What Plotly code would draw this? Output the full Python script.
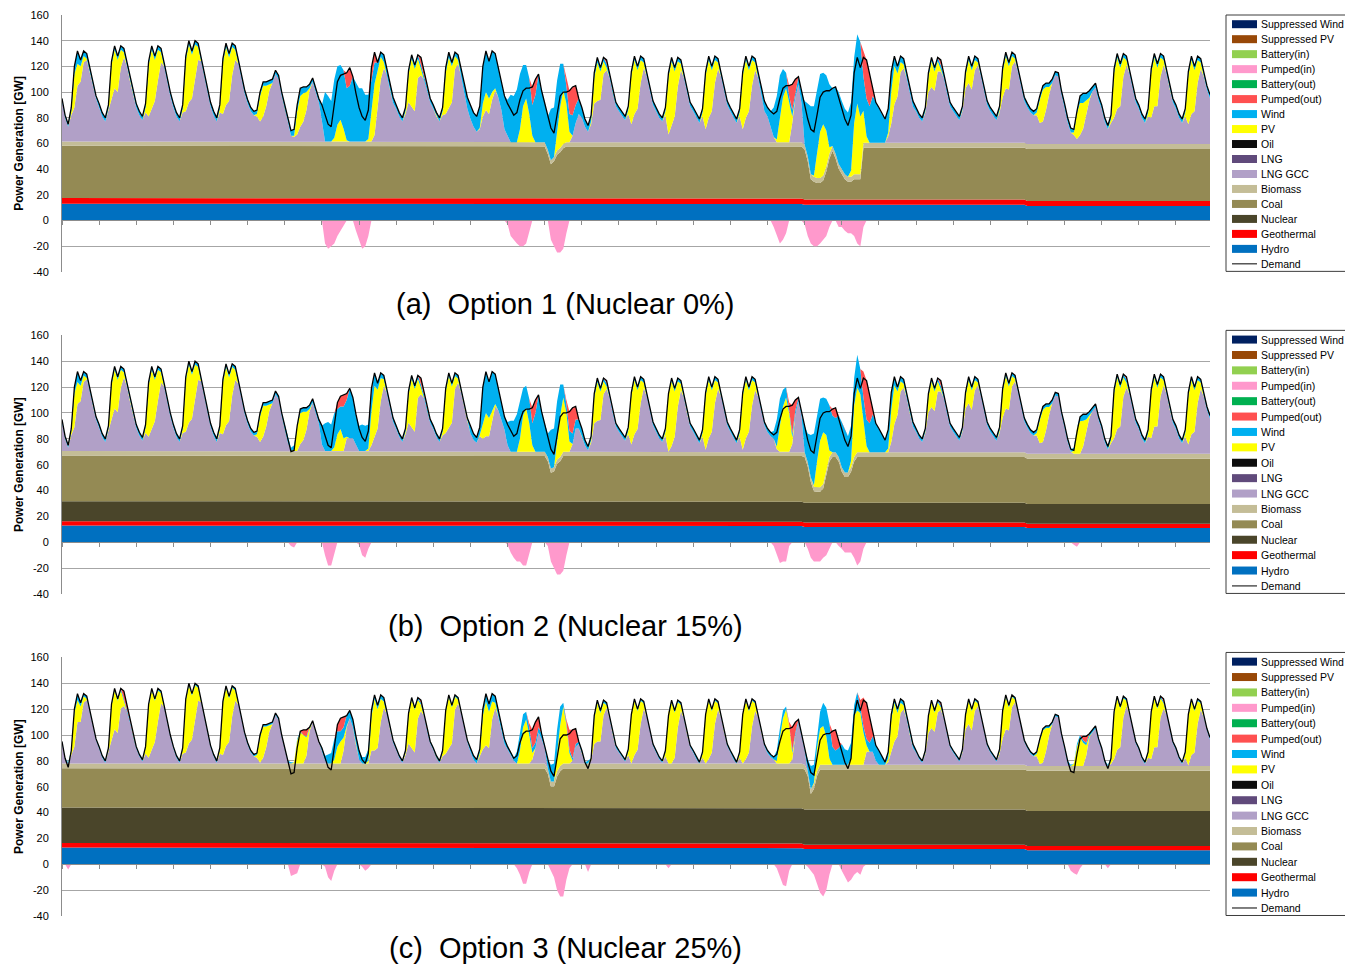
import plotly.graph_objects as go

# ====================== DATA (GW) ======================
N_DAYS = 31
HOURS = [0, 2, 4, 6, 8, 10, 12, 14, 16, 18, 20, 22]      # sample hours of each day
PV_HOURS = [6, 8, 10, 12, 14, 16]                        # PV rows give values at these hours (0 otherwise)

# demand, one row per day (same in all three options)
demand = [
    [95, 82, 75, 88, 120, 132, 125, 132, 130, 119, 107, 97],
    [91, 84, 80, 90, 124, 136, 128, 136, 134, 123, 111, 100],
    [91, 85, 81, 91, 124, 136, 128, 136, 134, 123, 111, 100],
    [91, 84, 80, 90, 128, 140, 132, 140, 138, 127, 115, 104],
    [92, 85, 80, 90, 126, 138, 130, 138, 136, 125, 113, 102],
    [94, 88, 85, 86, 100, 108, 108, 109, 110, 117, 113, 100],
    [91, 80, 70, 71, 90, 103, 104, 104, 106, 111, 103, 95],
    [90, 82, 75, 73, 92, 108, 113, 114, 115, 119, 112, 99],
    [88, 81, 78, 86, 119, 131, 123, 131, 129, 118, 106, 96],
    [90, 84, 80, 88, 117, 129, 121, 129, 127, 116, 104, 95],
    [90, 84, 80, 88, 119, 131, 123, 131, 129, 118, 106, 96],
    [90, 84, 81, 89, 120, 132, 124, 132, 130, 119, 107, 97],
    [91, 86, 82, 84, 94, 101, 103, 103, 104, 110, 114, 101],
    [92, 81, 72, 68, 84, 97, 100, 100, 101, 104, 105, 95],
    [88, 79, 74, 82, 115, 127, 119, 127, 125, 114, 102, 92],
    [88, 84, 81, 89, 116, 128, 120, 128, 126, 115, 103, 93],
    [88, 83, 80, 88, 115, 127, 119, 127, 125, 114, 102, 92],
    [88, 83, 79, 87, 116, 128, 120, 128, 126, 115, 103, 93],
    [88, 83, 79, 87, 116, 128, 120, 128, 126, 115, 103, 93],
    [88, 85, 83, 85, 95, 103, 105, 105, 106, 110, 112, 100],
    [90, 79, 71, 69, 82, 96, 100, 101, 101, 103, 104, 95],
    [88, 79, 74, 82, 115, 127, 119, 127, 125, 114, 102, 92],
    [88, 83, 79, 87, 116, 128, 120, 128, 126, 115, 103, 93],
    [88, 83, 80, 88, 115, 127, 119, 127, 125, 114, 102, 92],
    [88, 84, 81, 89, 116, 128, 120, 128, 126, 115, 103, 93],
    [88, 84, 81, 89, 119, 131, 123, 131, 129, 118, 106, 96],
    [91, 87, 85, 87, 97, 105, 107, 107, 110, 116, 115, 101],
    [91, 80, 72, 71, 85, 97, 99, 99, 101, 104, 107, 97],
    [90, 80, 74, 82, 118, 130, 122, 130, 128, 117, 105, 95],
    [90, 83, 79, 87, 118, 130, 122, 130, 128, 117, 105, 95],
    [90, 83, 79, 87, 116, 128, 120, 128, 126, 115, 105, 98],
]

# ---------------- Option 1 (Nuclear 0%) ----------------
hydro_a = [13.1, 13.1, 13.1, 13.1, 13.1, 13.1, 13.1, 13.1, 13.1, 13.1,
           12.8, 12.8, 12.8, 12.8, 12.8, 12.8, 12.8, 12.8, 12.8, 12.8,
           12.2, 12.2, 12.2, 12.2, 12.2, 12.2, 11.3, 11.3, 11.3, 11.3, 11.3]
geo_a = [4.4, 4.4, 4.4, 4.4, 4.4, 4.4, 4.4, 4.4, 4.4, 4.4,
         4.3, 4.3, 4.3, 4.3, 4.3, 4.3, 4.3, 4.3, 4.3, 4.3,
         4.1, 4.1, 4.1, 4.1, 4.1, 4.1, 3.9, 3.9, 3.9, 3.9, 3.9]
nuclear_a = [0] * N_DAYS
coal_a = [40.7, 40.7, 40.7, 40.7, 40.7, 40.7, 40.7, 40.7, 40.7, 40.7,
          40.6, 40.6, 40.6, 40.6, 40.6, 40.6, 40.6, 40.6, 40.6, 40.6,
          40.4, 40.4, 40.4, 40.4, 40.4, 40.4, 40.5, 40.5, 40.5, 40.5, 40.5]
coal_a_ramp = {
    13: [40.6, 34.6, 26.6, 29.1, 34.1, 36.1, 39.1, 40.6, 40.6, 40.6, 40.6, 40.6],
    20: [38.9, 29.9, 15.9, 13.9, 12.9, 12.9, 14.9, 21.9, 31.9, 37.9, 31.9, 23.9],
    21: [19.9, 15.9, 13.9, 13.9, 15.9, 15.9, 15.9, 40.4, 40.4, 40.4, 40.4, 40.4],
}
biomass_a = [3.3] * 20 + [3.8] * 11
lng_gcc_a = [
    [31.5, 18.5, 11.5, 20.5, 26.5, 43.5, 46.5, 61.5, 63.5, 54.5, 43.5, 33.5],
    [26.5, 19.5, 15.5, 24.5, 31.5, 41.5, 38.5, 57.5, 65.5, 58.5, 46.5, 35.5],
    [26.5, 20.5, 16.5, 22.5, 19.5, 25.5, 31.5, 47.5, 61.5, 58.5, 46.5, 35.5],
    [26.5, 19.5, 15.5, 22.5, 23.5, 30.5, 33.5, 49.5, 63.5, 62.5, 50.5, 39.5],
    [27.5, 20.5, 15.5, 22.5, 21.5, 28.5, 31.5, 51.5, 63.5, 60.5, 48.5, 37.5],
    [29.5, 23.5, 20.5, 19.5, 15.5, 19.5, 27.5, 39.5, 45.5, 52.5, 48.5, 35.5],
    [26.5, 15.5, 4.5, 3.5, 5.5, 11.5, 15.5, 24.5, 39.5, 46.5, 38.5, 30.5],
    [16, 0, 0, 0, 0, 0, 0, 0, 0, 0, 0, 0],
    [0, 0, 0, 0, 0, 5, 25, 48, 57, 52, 40, 30],
    [25.5, 19.5, 15.5, 21.5, 30.5, 26.5, 23.5, 49.5, 51.5, 48.5, 39.5, 30.5],
    [26, 20, 16, 21, 22, 26, 31, 57, 61, 51, 37, 26],
    [18, 12, 8, 10, 20, 25, 22, 33, 40, 35, 25, 10],
    [5, 0, 0, 0, 0, 0, 0, 0, 0, 0, 0, 0],
    [0, 0, 0, 0, 0, 0, 0, 0, 0, 5, 15, 22],
    [19, 12, 8, 14, 30, 32, 33, 53, 56, 50, 38, 28],
    [24, 20, 17, 22, 14, 22, 26, 46, 58, 51, 39, 29],
    [24, 19, 16, 21, 6, 13, 20, 43, 56, 50, 38, 28],
    [24, 19, 15, 20, 10, 19, 24, 46, 57, 51, 39, 29],
    [24, 19, 15, 20, 10, 19, 24, 44, 56, 50, 36, 24],
    [20, 12, 4, 0, 0, 0, 0, 0, 15, 35, 45, 30],
    [0, 0, 0, 0, 0, 0, 0, 0, 0, 0, 0, 0],
    [0, 0, 0, 0, 0, 0, 0, 0, 0, 0, 0, 0],
    [0, 0, 0, 5, 15, 30, 36, 55, 58, 50, 38, 28],
    [24.5, 19.5, 16.5, 23.5, 39.5, 43.5, 40.5, 55.5, 55.5, 50.5, 38.5, 28.5],
    [24.5, 20.5, 17.5, 24.5, 42.5, 46.5, 41.5, 56.5, 60.5, 51.5, 39.5, 29.5],
    [24.5, 20.5, 17.5, 23.5, 35.5, 42.5, 41.5, 59.5, 63.5, 54.5, 42.5, 32.5],
    [28.5, 24.5, 22.5, 22.5, 16.5, 17.5, 26.5, 38.5, 47.5, 53.5, 52.5, 38.5],
    [28, 17, 9, 7, 4, 7, 12, 24, 34, 41, 44, 34],
    [27.5, 17.5, 11.5, 16.5, 20.5, 27.5, 29.5, 52.5, 61.5, 54.5, 42.5, 32.5],
    [27.5, 20.5, 16.5, 21.5, 20.5, 29.5, 29.5, 52.5, 61.5, 54.5, 42.5, 32.5],
    [27.5, 20.5, 16.5, 21.5, 15.5, 23.5, 25.5, 47.5, 58.5, 52.5, 42.5, 35.5],
]
pv_a = [
    [3, 26, 17, 12, 5, 1], [1, 28, 30, 25, 14, 4], [4, 40, 46, 32, 24, 8], [3, 40, 45, 34, 26, 10],
    [3, 40, 45, 34, 22, 8], [2, 20, 24, 16, 5, 0], [1, 18, 24, 22, 14, 2], [0, 3, 13, 17, 10, 1],
    [2, 26, 40, 30, 18, 5], [2, 22, 38, 33, 15, 5], [3, 32, 40, 28, 10, 3], [1, 10, 14, 12, 6, 2],
    [0, 10, 28, 34, 22, 5], [0, 15, 32, 42, 30, 8], [2, 20, 30, 22, 10, 2], [3, 38, 42, 30, 18, 4],
    [3, 45, 50, 35, 20, 5], [3, 42, 45, 32, 18, 5], [3, 42, 45, 32, 20, 6], [2, 20, 35, 42, 30, 5],
    [1, 20, 36, 40, 28, 5], [5, 40, 55, 45, 25, 5], [3, 25, 30, 18, 8, 3], [1, 12, 20, 15, 8, 2],
    [1, 10, 18, 15, 8, 2], [2, 20, 25, 18, 8, 2], [2, 18, 25, 18, 6, 0], [2, 20, 25, 20, 10, 2],
    [3, 35, 40, 30, 15, 4], [3, 35, 38, 30, 15, 4], [3, 38, 42, 32, 18, 5],
]
wind_a = [
    [2, 2, 2, 3, 6, 10, 5, 4, 4, 3, 2, 2],
    [3, 3, 3, 3, 3, 3, 3, 3, 3, 3, 3, 3],
    [3, 3, 3, 3, 3, 3, 3, 3, 3, 3, 3, 3],
    [3, 3, 3, 3, 3, 3, 3, 3, 3, 3, 3, 3],
    [3, 3, 3, 3, 3, 3, 3, 3, 3, 3, 3, 3],
    [3, 3, 3, 3, 3, 3, 3, 3, 3, 3, 3, 3],
    [3, 3, 4, 5, 5, 6, 5, 4, 3, 3, 3, 3],
    [12.5, 38.5, 35.5, 31.5, 45.5, 45.5, 42.5, 45.5, 40.5, 43.5, 50.5, 45.5],
    [41.5, 41.5, 36.5, 34.5, 21.5, 16.5, 6.5, 3.5, 5.5, 4.5, 4.5, 4.5],
    [3, 3, 3, 3, 3, 3, 3, 3, 3, 3, 3, 3],
    [3, 3, 3, 3, 4, 4, 3, 3, 4, 6, 8, 9],
    [11, 11, 12, 17, 29, 32, 29, 32, 27, 23, 21, 26],
    [28, 37, 36, 41, 43, 32, 26, 28, 24, 37, 53, 40],
    [31, 26, 40, 38.5, 39.5, 33.5, 20.5, 14, 14, 16, 14, 12],
    [8, 6, 5, 5, 4, 4, 3, 3, 3, 3, 3, 3],
    [3, 3, 3, 3, 3, 3, 3, 3, 3, 3, 3, 3],
    [3, 3, 3, 3, 3, 3, 3, 3, 3, 3, 3, 3],
    [3, 3, 3, 3, 3, 3, 3, 3, 3, 3, 3, 3],
    [3, 3, 3, 3, 3, 3, 3, 3, 3, 4, 6, 8],
    [7, 12, 23, 34, 32, 22, 12, 6, 5, 4, 6, 9],
    [34, 41, 53, 54, 49, 45, 40, 43, 49, 45, 52, 56],
    [53, 51, 50, 53, 51, 54, 58, 26.5, 29.5, 28.5, 36.5, 31.5],
    [27.5, 22.5, 18.5, 18.5, 15.5, 7.5, 5.5, 4.5, 4.5, 4.5, 4.5, 4.5],
    [3, 3, 3, 3, 3, 3, 3, 3, 3, 3, 3, 3],
    [3, 3, 3, 3, 3, 3, 3, 3, 3, 3, 3, 3],
    [3, 3, 3, 3, 3, 3, 3, 3, 3, 3, 3, 3],
    [3, 3, 3, 3, 3, 3, 3, 3, 3, 3, 3, 3],
    [3.5, 3.5, 3.5, 2.5, 1.5, 5.5, 7.5, 5.5, 5.5, 3.5, 3.5, 3.5],
    [3, 3, 3, 3, 3, 3, 3, 3, 3, 3, 3, 3],
    [3, 3, 3, 3, 3, 3, 3, 3, 3, 3, 3, 3],
    [3, 3, 3, 3, 3, 3, 3, 3, 3, 3, 3, 3],
]
pumped_out_a = {
    7: [0, 0, 0, 0, 0, 0, 0, 0, 12, 14, 0, 0],
    8: [0, 0, 0, 0, 10, 8, 0, 0, 0, 0, 0, 0],
    9: [0, 0, 0, 0, 0, 0, 0, 0, 6, 3, 0, 0],
    12: [0, 0, 0, 0, 0, 0, 0, 0, 14, 12, 0, 0],
    13: [0, 0, 0, 0, 0, 0, 0, 5, 18, 22, 15, 0],
    14: [0, 0, 0, 0, 0, 0, 0, 0, 3, 0, 0, 0],
    19: [0, 0, 0, 0, 0, 0, 0, 8, 20, 10, 0, 0],
    21: [0, 0, 0, 0, 0, 0, 0, 20, 30, 25, 5, 0],
    23: [0, 0, 0, 0, 0, 0, 0, 0, 4, 0, 0, 0],
}
pumped_in_a = {
    7: [0, -18, -22, -20, -18, -12, -8, -3, 0, 0, 0, -8],
    8: [-15, -22, -20, -12, 0, 0, 0, 0, 0, 0, 0, 0],
    12: [-3, -12, -15, -18, -20, -20, -18, -8, 0, 0, 0, 0],
    13: [0, 0, -15, -20, -25, -25, -22, -10, 0, 0, 0, 0],
    19: [0, 0, -5, -12, -18, -15, -10, 0, 0, 0, 0, 0],
    20: [-3, -12, -18, -20, -20, -18, -15, -12, -5, 0, 0, -5],
    21: [-5, -8, -10, -10, -12, -18, -20, -5, 0, 0, 0, 0],
}

# ---------------- Option 2 (Nuclear 15%) ----------------
hydro_b = [12.9] * 10 + [12.5] * 10 + [11.8] * 6 + [10.9] * 5
geo_b = [3.4] * 26 + [3.3] * 5
nuclear_b = [15.4] * N_DAYS
coal_b = [35.3] * 10 + [35.4] * 16 + [35.0] * 5
coal_b_ramp = {
    13: [35.4, 31.4, 22.4, 23.4, 29.4, 31.4, 35.4, 35.4, 35.4, 35.4, 35.4, 35.4],
    20: [35.4, 27.9, 15.9, 8.9, 8.4, 8.4, 10.9, 20.9, 31.9, 35.4, 35.4, 31.9],
    21: [23.9, 19.9, 19.9, 23.9, 31.9, 35.4, 35.4, 35.4, 35.4, 35.4, 35.4, 35.4],
}
biomass_b = [3.5] * 10 + [3.3] * 10 + [3.5] * 6 + [3.9] * 5
lng_gcc_b = [
    [22.5, 9.5, 2.5, 12.5, 18.5, 36.5, 38.5, 53.5, 55.5, 46.5, 34.5, 24.5],
    [18, 11, 7, 16, 23, 33, 30, 49, 57, 50, 38, 27],
    [18, 12, 8, 14, 11, 17, 23, 39, 53, 50, 38, 27],
    [18, 11, 7, 14, 15, 22, 25, 41, 55, 54, 42, 31],
    [19, 12, 7, 14, 13, 20, 23, 43, 55, 52, 40, 29],
    [21, 15, 12, 11, 7, 11, 19, 31, 37, 44, 40, 27],
    [17.5, 6.5, 0, 0, 0, 5.5, 8.5, 16.5, 30.5, 37.5, 29.5, 21.5],
    [5, 0, 0, 0, 0, 0, 0, 0, 10, 10, 10, 5],
    [0, 0, 0, 0, 4.5, 10.5, 17.5, 38.5, 50.5, 44.5, 32.5, 22.5],
    [17, 11, 7, 13, 22, 18, 15, 41, 44, 41, 31, 22],
    [17.5, 11.5, 7.5, 12.5, 14.5, 18.5, 22.5, 48.5, 53.5, 45.5, 33.5, 23.5],
    [14, 9, 7, 12, 10, 12, 12, 25, 35, 32, 25, 17],
    [5, 0, 0, 0, 0, 0, 0, 0, 0, 0, 0, 0],
    [0, 0, 0, 0, 0, 0, 0, 0, 0, 6, 18, 18],
    [12, 5, 1, 7, 22, 24, 24.5, 44.5, 48.5, 41.5, 29.5, 19.5],
    [15.5, 11.5, 8.5, 13.5, 5.5, 13.5, 17.5, 37.5, 49.5, 42.5, 30.5, 20.5],
    [15.5, 10.5, 7.5, 12.5, 0, 4.5, 11.5, 34.5, 47.5, 41.5, 29.5, 19.5],
    [15.5, 10.5, 6.5, 11.5, 1.5, 10.5, 15.5, 37.5, 48.5, 42.5, 30.5, 20.5],
    [15.5, 10.5, 6.5, 11.5, 1.5, 10.5, 15.5, 35.5, 47.5, 42.5, 30.5, 20.5],
    [15, 12, 10, 2, 0, 0, 0, 0, 6, 29, 39, 27],
    [0, 0, 0, 0, 0, 0, 0, 0, 0, 0, 0, 0],
    [0, 0, 0, 0, 0, 0, 0, 0, 0, 0, 0, 0],
    [0, 0, 0, 0, 8, 22, 29, 47, 50, 42, 30, 20],
    [16, 11, 8, 15, 31, 35, 32, 47, 47, 42, 30, 20],
    [16, 12, 9, 16, 34, 38, 33, 48, 52, 43, 31, 21],
    [16, 12, 9, 15, 27, 34, 33, 51, 55, 46, 34, 24],
    [20, 16, 14, 14, 8, 9, 18, 30, 39, 45, 44, 30],
    [20, 9, 1.5, 0, 0, 0, 5.5, 16.5, 27.5, 33, 36, 26],
    [19, 9, 3, 8, 12, 19, 21, 44, 51, 46, 34, 24],
    [19, 12, 8, 13, 12, 21, 21, 44, 53, 46, 34, 24],
    [19, 12, 8, 13, 7, 15, 17, 39, 50, 44, 34, 27],
]
pv_b = [
    [3, 26, 17, 12, 5, 1], [1, 28, 30, 25, 14, 4], [4, 40, 46, 32, 24, 8], [3, 40, 45, 34, 26, 10],
    [3, 40, 45, 34, 22, 8], [2, 20, 24, 16, 5, 0], [1, 18, 24, 22, 14, 2], [0, 3, 13, 17, 10, 1],
    [2, 26, 40, 30, 18, 5], [2, 22, 38, 33, 15, 5], [3, 32, 40, 28, 10, 3], [1, 12, 18, 14, 7, 2],
    [0, 10, 28, 34, 22, 5], [0, 15, 32, 42, 30, 8], [2, 20, 30, 22, 10, 2], [3, 38, 42, 30, 18, 4],
    [3, 45, 50, 35, 20, 5], [3, 42, 45, 32, 18, 5], [3, 42, 45, 32, 20, 6], [2, 20, 35, 42, 30, 5],
    [1, 20, 36, 40, 28, 5], [5, 40, 50, 45, 25, 5], [3, 25, 30, 18, 8, 3], [1, 12, 20, 15, 8, 2],
    [1, 10, 18, 15, 8, 2], [2, 20, 25, 18, 8, 2], [2, 18, 25, 18, 6, 0], [2, 20, 25, 20, 10, 2],
    [3, 35, 40, 30, 15, 4], [3, 35, 38, 30, 15, 4], [3, 38, 42, 32, 18, 5],
]
wind_b = [
    [2, 2, 2, 2, 5, 8, 4, 3, 3, 2, 2, 2],
    [2.5, 2.5, 2.5, 2.5, 2.5, 2.5, 2.5, 2.5, 2.5, 2.5, 2.5, 2.5],
    [2.5, 2.5, 2.5, 2.5, 2.5, 2.5, 2.5, 2.5, 2.5, 2.5, 2.5, 2.5],
    [2.5, 2.5, 2.5, 2.5, 2.5, 2.5, 2.5, 2.5, 2.5, 2.5, 2.5, 2.5],
    [2.5, 2.5, 2.5, 2.5, 2.5, 2.5, 2.5, 2.5, 2.5, 2.5, 2.5, 2.5],
    [2.5, 2.5, 2.5, 2.5, 2.5, 2.5, 2.5, 2.5, 2.5, 2.5, 2.5, 2.5],
    [3, 3, 2.5, 3.5, 1.5, 3, 3, 3, 3, 3, 3, 3],
    [14.5, 21.5, 22.5, 20.5, 26.5, 19.5, 17.5, 24.5, 28.5, 38.5, 31.5, 23.5],
    [19.5, 20.5, 19.5, 18.5, 15, 10, 5, 4, 3, 3, 3, 3],
    [2.5, 2.5, 2.5, 2.5, 2.5, 2.5, 2.5, 2.5, 2.5, 2.5, 2.5, 2.5],
    [2.5, 2.5, 2.5, 2.5, 2.5, 2.5, 2.5, 2.5, 2.5, 2.5, 2.5, 2.5],
    [6, 5, 4, 6, 28, 32, 28, 30, 23, 17, 12, 10],
    [18, 24, 24, 29, 29, 21, 17, 19, 17, 30, 44, 31],
    [22, 18, 30, 30, 30, 24, 10, 7, 8, 8, 7, 7],
    [6, 4, 3, 3, 3, 3, 2.5, 2.5, 2.5, 2.5, 2.5, 2.5],
    [2.5, 2.5, 2.5, 2.5, 2.5, 2.5, 2.5, 2.5, 2.5, 2.5, 2.5, 2.5],
    [2.5, 2.5, 2.5, 2.5, 0, 2.5, 2.5, 2.5, 2.5, 2.5, 2.5, 2.5],
    [2.5, 2.5, 2.5, 2.5, 2.5, 2.5, 2.5, 2.5, 2.5, 2.5, 2.5, 2.5],
    [2.5, 2.5, 2.5, 2.5, 2.5, 2.5, 2.5, 2.5, 2.5, 2.5, 2.5, 2.5],
    [3, 3, 6, 21, 21, 13, 8, 3, 3, 3, 3, 3],
    [20.5, 22, 33, 40, 34.5, 32.5, 27, 28, 35, 28.5, 26.5, 32],
    [35, 33, 28, 27, 21, 25.5, 19.5, 17.5, 20.5, 22.5, 29.5, 22.5],
    [18.5, 13.5, 9.5, 14.5, 13.5, 6.5, 3.5, 3.5, 3.5, 3.5, 3.5, 3.5],
    [2.5, 2.5, 2.5, 2.5, 2.5, 2.5, 2.5, 2.5, 2.5, 2.5, 2.5, 2.5],
    [2.5, 2.5, 2.5, 2.5, 2.5, 2.5, 2.5, 2.5, 2.5, 2.5, 2.5, 2.5],
    [2.5, 2.5, 2.5, 2.5, 2.5, 2.5, 2.5, 2.5, 2.5, 2.5, 2.5, 2.5],
    [2.5, 2.5, 2.5, 2.5, 2.5, 2.5, 2.5, 2.5, 2.5, 2.5, 2.5, 2.5],
    [2.5, 2.5, 2, 2.5, 0, 3.5, 5, 4, 3, 2.5, 2.5, 2.5],
    [2.5, 2.5, 2.5, 2.5, 2.5, 2.5, 2.5, 2.5, 2.5, 2.5, 2.5, 2.5],
    [2.5, 2.5, 2.5, 2.5, 2.5, 2.5, 2.5, 2.5, 2.5, 2.5, 2.5, 2.5],
    [2.5, 2.5, 2.5, 2.5, 2.5, 2.5, 2.5, 2.5, 2.5, 2.5, 2.5, 2.5],
]
pumped_out_b = {
    7: [0, 0, 0, 0, 0, 5, 8, 9, 5, 0, 0, 0],
    8: [0, 0, 0, 0, 3, 0, 0, 0, 0, 0, 0, 0],
    9: [0, 0, 0, 0, 0, 0, 0, 0, 5, 2, 0, 0],
    12: [0, 0, 0, 0, 0, 0, 0, 0, 12, 10, 0, 0],
    13: [0, 0, 0, 0, 0, 0, 0, 3, 15, 20, 10, 0],
    14: [0, 0, 0, 0, 0, 0, 0, 0, 2, 0, 0, 0],
    19: [0, 0, 0, 0, 0, 0, 0, 5, 22, 8, 0, 0],
    20: [0, 0, 0, 0, 0, 0, 0, 0, 0, 5, 8, 0],
    21: [0, 0, 0, 0, 0, 0, 0, 20, 30, 22, 3, 0],
    23: [0, 0, 0, 0, 0, 0, 0, 0, 4, 0, 0, 0],
    28: [0, 0, 0, 0, 0, 0, 0, 0, 2, 0, 0, 0],
}
pumped_in_b = {
    6: [0, 0, -3, -4, 0, 0, 0, 0, 0, 0, 0, 0],
    7: [0, -10, -18, -18, -8, 0, 0, 0, 0, 0, 0, 0],
    8: [-2, -10, -12, -5, 0, 0, 0, 0, 0, 0, 0, 0],
    12: [-2, -8, -12, -15, -15, -18, -18, -8, 0, 0, 0, 0],
    13: [0, -3, -15, -20, -25, -25, -22, -10, 0, 0, 0, 0],
    19: [0, 0, -3, -10, -16, -15, -15, -3, 0, 0, 0, 0],
    20: [0, -5, -12, -15, -15, -15, -12, -10, -5, 0, 0, -3],
    21: [-5, -8, -8, -8, -12, -18, -15, -5, 0, 0, 0, 0],
    27: [0, 0, 0, -2, -3.5, 0, 0, 0, 0, 0, 0, 0],
}

# ---------------- Option 3 (Nuclear 25%) ----------------
hydro_c = [12.9] * 10 + [12.5] * 10 + [11.8] * 6 + [10.9] * 5
geo_c = [3.6] * 10 + [3.5] * 10 + [3.4] * 6 + [3.3] * 5
nuclear_c = [27.4] * 20 + [27.2] * 6 + [27.1] * 5
coal_c = [30.4] * 10 + [30.6] * 10 + [30.9] * 6 + [31.0] * 5
coal_c_ramp = {
    13: [30.6, 26.6, 16.6, 16.6, 24.6, 28.6, 30.6, 30.6, 30.6, 30.6, 30.6, 30.6],
    20: [30.9, 25.9, 11.9, 15.9, 25.9, 30.9, 30.9, 30.9, 30.9, 30.9, 30.9, 30.9],
}
biomass_c = [3.7] * 10 + [4.0] * 10 + [3.7] * 11
lng_gcc_c = [
    [16, 3, 0, 6, 13, 32, 32, 47, 49, 40, 28, 18],
    [11.5, 4.5, 0.5, 9.5, 16.5, 26.5, 23.5, 42.5, 44.5, 40.5, 31.5, 20.5],
    [11.5, 5.5, 1.5, 7.5, 4.5, 10.5, 16.5, 32.5, 46.5, 43.5, 31.5, 20.5],
    [11.5, 4.5, 0.5, 7.5, 8.5, 15.5, 18.5, 34.5, 48.5, 47.5, 35.5, 24.5],
    [12.5, 5.5, 0.5, 7.5, 6.5, 13.5, 16.5, 36.5, 48.5, 45.5, 33.5, 22.5],
    [14.5, 8.5, 5.5, 4.5, 0.5, 4.5, 12.5, 24.5, 30.5, 37.5, 33.5, 20.5],
    [11, 1, 0, 0, 0, 0, 0, 6, 25, 32, 24, 16],
    [10, 2, 0, 0, 0, 0, 0, 10, 28, 35, 28, 14],
    [3, 0, 0, 0, 10, 10, 12, 32, 43, 38, 26, 16],
    [10.5, 4.5, 0.5, 6.5, 15.5, 11.5, 8.5, 34.5, 40.5, 36.5, 24.5, 15.5],
    [10.5, 4.5, 0.5, 5.5, 7.5, 11.5, 15.5, 41.5, 46.5, 38.5, 26.5, 16.5],
    [9, 3, 0, 6, 11, 14, 12, 34, 43, 36, 24, 15],
    [11, 6, 2, 0, 0, 0, 0, 0, 3, 12, 24, 19],
    [12, 0, 0, 0, 0, 0, 0, 0, 0, 2, 13, 15],
    [8, 0, 0, 2, 15, 17, 17, 37, 43, 34, 22, 12],
    [8.5, 4.5, 1.5, 6.5, 0, 6.5, 10.5, 30.5, 42.5, 35.5, 23.5, 13.5],
    [8.5, 3.5, 0.5, 5.5, 0, 0, 4.5, 27.5, 40.5, 34.5, 22.5, 12.5],
    [8.5, 3.5, 0, 4.5, 0, 3.5, 8.5, 30.5, 41.5, 35.5, 23.5, 13.5],
    [8.5, 3.5, 0, 4.5, 0, 3.5, 8.5, 28.5, 40.5, 35.5, 23.5, 13.5],
    [8, 5, 3, 0, 0, 0, 0, 0, 3, 22, 32, 20],
    [11, 0, 0, 0, 0, 0, 0, 0, 0, 0, 0, 0],
    [0, 0, 0, 0, 0, 0, 0, 0, 10, 10, 10, 3],
    [0, 0, 0, 2, 10, 18, 22, 40, 43, 35, 23, 13],
    [9.5, 4.5, 1.5, 8.5, 24.5, 28.5, 25.5, 40.5, 42.5, 35.5, 23.5, 13.5],
    [9.5, 5.5, 2.5, 9.5, 27.5, 31.5, 26.5, 41.5, 45.5, 36.5, 24.5, 14.5],
    [9.5, 5.5, 2.5, 8.5, 20.5, 27.5, 26.5, 44.5, 48.5, 39.5, 27.5, 17.5],
    [13.5, 9.5, 7.5, 7.5, 1.5, 2.5, 11.5, 23.5, 32.5, 38.5, 37.5, 23.5],
    [13, 2, 0, 0, 0, 0, 0, 8, 22, 26, 29, 19],
    [12.5, 2.5, 0, 1.5, 5.5, 12.5, 14.5, 37.5, 46.5, 39.5, 27.5, 17.5],
    [12.5, 5.5, 1.5, 6.5, 5.5, 14.5, 14.5, 37.5, 44.5, 39.5, 27.5, 17.5],
    [12.5, 5.5, 1.5, 6.5, 0.5, 8.5, 10.5, 32.5, 43.5, 37.5, 27.5, 20.5],
]
pv_c = [
    [3, 26, 17, 12, 5, 1], [1, 28, 30, 25, 14, 4], [4, 40, 46, 32, 24, 8], [3, 40, 45, 34, 26, 10],
    [3, 40, 45, 34, 22, 8], [2, 20, 24, 16, 5, 0], [1, 18, 24, 22, 14, 2], [0, 3, 13, 17, 10, 1],
    [2, 26, 40, 30, 18, 5], [2, 22, 38, 33, 15, 5], [3, 32, 40, 28, 10, 3], [2, 26, 34, 28, 14, 4],
    [0, 10, 28, 34, 22, 5], [0, 15, 32, 44, 30, 8], [2, 20, 30, 22, 10, 2], [3, 38, 42, 30, 18, 4],
    [3, 40, 47, 35, 20, 5], [3, 38, 45, 32, 18, 5], [3, 38, 45, 32, 20, 6], [2, 20, 35, 42, 30, 5],
    [1, 18, 28, 30, 22, 5], [5, 38, 42, 40, 25, 5], [3, 25, 30, 18, 8, 3], [1, 12, 20, 15, 8, 2],
    [1, 10, 18, 15, 8, 2], [2, 20, 25, 18, 8, 2], [2, 18, 25, 18, 6, 0], [2, 15, 22, 18, 8, 1],
    [3, 35, 40, 30, 15, 4], [3, 35, 38, 30, 15, 4], [3, 38, 42, 32, 18, 5],
]
wind_c = [
    [1, 1, 1, 1, 3, 5, 3, 2, 2, 1, 1, 1],
    [1.5, 1.5, 1.5, 1.5, 1.5, 1.5, 1.5, 1.5, 1.5, 1.5, 1.5, 1.5],
    [1.5, 1.5, 1.5, 1.5, 1.5, 1.5, 1.5, 1.5, 1.5, 1.5, 1.5, 1.5],
    [1.5, 1.5, 1.5, 1.5, 1.5, 1.5, 1.5, 1.5, 1.5, 1.5, 1.5, 1.5],
    [1.5, 1.5, 1.5, 1.5, 1.5, 1.5, 1.5, 1.5, 1.5, 1.5, 1.5, 1.5],
    [1.5, 1.5, 1.5, 1.5, 1.5, 1.5, 1.5, 1.5, 1.5, 1.5, 1.5, 1.5],
    [2, 1, 1, 0, 1, 1, 0, 1, 1, 1, 1, 1],
    [2, 4, 7, 8, 16, 12, 8, 8, 8, 6, 6, 7],
    [7, 5, 5, 9, 5, 3, 3, 3, 3, 2, 2, 2],
    [1.5, 1.5, 1.5, 1.5, 1.5, 1.5, 1.5, 1.5, 1.5, 1.5, 1.5, 1.5],
    [1.5, 1.5, 1.5, 1.5, 1.5, 1.5, 1.5, 1.5, 1.5, 1.5, 1.5, 1.5],
    [3, 3, 3, 3, 5, 6, 6, 6, 5, 5, 5, 4],
    [2, 2, 2, 9, 14, 10, 6, 6, 4, 4, 4, 4],
    [2, 7, 13, 14, 17, 14, 3, 2, 3, 2, 2, 2],
    [2, 1, 2, 0, 2, 2, 2, 2, 2, 2, 2, 2],
    [1.5, 1.5, 1.5, 1.5, 0, 1.5, 1.5, 1.5, 1.5, 1.5, 1.5, 1.5],
    [1.5, 1.5, 1.5, 1.5, 0, 2, 1.5, 1.5, 1.5, 1.5, 1.5, 1.5],
    [1.5, 1.5, 1, 1.5, 0, 1.5, 1.5, 1.5, 1.5, 1.5, 1.5, 1.5],
    [1.5, 1.5, 1, 1.5, 0, 1.5, 1.5, 1.5, 1.5, 1.5, 1.5, 1.5],
    [2, 2, 2, 8, 7, 6, 2, 0, 2, 2, 2, 2],
    [2, 9, 18, 14, 7, 13, 18, 22, 27, 14, 11, 13],
    [16, 12, 11, 12, 8, 14, 5, 5, 5, 7, 12, 12],
    [11, 6, 2, 5, 4, 3, 3, 3, 3, 3, 3, 3],
    [1.5, 1.5, 1.5, 1.5, 1.5, 1.5, 1.5, 1.5, 1.5, 1.5, 1.5, 1.5],
    [1.5, 1.5, 1.5, 1.5, 1.5, 1.5, 1.5, 1.5, 1.5, 1.5, 1.5, 1.5],
    [1.5, 1.5, 1.5, 1.5, 1.5, 1.5, 1.5, 1.5, 1.5, 1.5, 1.5, 1.5],
    [1.5, 1.5, 1.5, 1.5, 1.5, 1.5, 1.5, 1.5, 1.5, 1.5, 1.5, 1.5],
    [2, 2, 1, 0, 2, 2, 2, 2, 2, 2, 2, 2],
    [1.5, 1.5, 1, 1.5, 1.5, 1.5, 1.5, 1.5, 1.5, 1.5, 1.5, 1.5],
    [1.5, 1.5, 1.5, 1.5, 1.5, 1.5, 1.5, 1.5, 1.5, 1.5, 1.5, 1.5],
    [1.5, 1.5, 1.5, 1.5, 1.5, 1.5, 1.5, 1.5, 1.5, 1.5, 1.5, 1.5],
]
pumped_out_c = {
    1: [0, 0, 0, 0, 0, 0, 0, 0, 6, 3, 0, 0],
    6: [0, 0, 0, 0, 0, 0, 4, 5, 0, 0, 0, 0],
    7: [0, 0, 0, 0, 0, 5, 10, 8, 0, 0, 0, 0],
    9: [0, 0, 0, 0, 0, 0, 0, 0, 2, 0, 0, 0],
    12: [0, 0, 0, 0, 0, 0, 0, 3, 14, 16, 8, 0],
    13: [0, 0, 0, 0, 0, 0, 0, 2, 15, 22, 12, 0],
    19: [0, 0, 0, 0, 0, 0, 0, 2, 18, 8, 0, 0],
    20: [0, 0, 0, 0, 0, 0, 0, 0, 0, 12, 16, 5],
    21: [0, 0, 0, 0, 0, 0, 5, 22, 28, 20, 3, 0],
    23: [0, 0, 0, 0, 0, 0, 0, 0, 2, 0, 0, 0],
    27: [0, 0, 0, 0, 0, 0, 3, 5, 0, 0, 0, 0],
    29: [0, 0, 0, 0, 0, 0, 0, 0, 2, 0, 0, 0],
}
pumped_in_c = {
    0: [0, 0, -4, 0, 0, 0, 0, 0, 0, 0, 0, 0],
    6: [0, 0, -9, -8, -7, 0, 0, 0, 0, 0, 0, 0],
    7: [0, -2, -10, -13, -5, 0, 0, 0, 0, 0, 0, 0],
    8: [0, -2, -5, -3, 0, 0, 0, 0, 0, 0, 0, 0],
    12: [0, 0, 0, -3, -8, -15, -15, -6, 0, 0, 0, 0],
    13: [0, 0, -5, -10, -20, -25, -25, -12, -3, 0, 0, 0],
    14: [0, 0, -6, 0, 0, 0, 0, 0, 0, 0, 0, 0],
    16: [0, 0, 0, 0, -3, 0, 0, 0, 0, 0, 0, 0],
    19: [0, 0, 0, -3, -10, -16, -17, -5, 0, 0, 0, 0],
    20: [0, -2, -5, -8, -15, -22, -25, -20, -8, 0, 0, 0],
    21: [-5, -10, -14, -12, -8, -6, -8, -2, 0, 0, 0, 0],
    27: [0, 0, -5, -7, -8, -3, 0, 0, 0, 0, 0, 0],
    28: [0, 0, -3, 0, 0, 0, 0, 0, 0, 0, 0, 0],
}

PANEL_TITLES = ["(a)\u00a0\u00a0Option 1 (Nuclear 0%)",
                "(b)\u00a0\u00a0Option 2 (Nuclear 15%)",
                "(c)\u00a0\u00a0Option 3 (Nuclear 25%)"]
Y_TICKS = [-40, -20, 0, 20, 40, 60, 80, 100, 120, 140, 160]

# ====================== BUILD SERIES ======================
hour_axis = [24 * d + h for d in range(N_DAYS) for h in HOURS]


def flat(rows):
    return [v for row in rows for v in row]


def per_day(daily_vals):
    return [v for v in daily_vals for _ in HOURS]


def pv_series(rows):
    out = []
    for r in rows:
        lookup = dict(zip(PV_HOURS, r))
        out += [lookup.get(h, 0) for h in HOURS]
    return out


def sparse(table):
    out = []
    for d in range(N_DAYS):
        out += table.get(d, [0] * len(HOURS))
    return out


def coal_series(daily_vals, ramp):
    out = []
    for d in range(N_DAYS):
        out += ramp.get(d, [daily_vals[d]] * len(HOURS))
    return out


zero_series = [0] * len(hour_axis)

panels = [
    dict(hydro=hydro_a, geo=geo_a, nuc=nuclear_a, coal=coal_a, ramp=coal_a_ramp, bio=biomass_a,
         lng=lng_gcc_a, pv=pv_a, wind=wind_a, pout=pumped_out_a, pin=pumped_in_a),
    dict(hydro=hydro_b, geo=geo_b, nuc=nuclear_b, coal=coal_b, ramp=coal_b_ramp, bio=biomass_b,
         lng=lng_gcc_b, pv=pv_b, wind=wind_b, pout=pumped_out_b, pin=pumped_in_b),
    dict(hydro=hydro_c, geo=geo_c, nuc=nuclear_c, coal=coal_c, ramp=coal_c_ramp, bio=biomass_c,
         lng=lng_gcc_c, pv=pv_c, wind=wind_c, pout=pumped_out_c, pin=pumped_in_c),
]

COLORS = {
    "Suppressed Wind": "#002060", "Suppressed PV": "#984807", "Battery(in)": "#92D050",
    "Pumped(in)": "#FF99CC", "Battery(out)": "#00B050", "Pumped(out)": "#FF5050",
    "Wind": "#00B0F0", "PV": "#FFFF00", "Oil": "#0D0D0D", "LNG": "#604A7B",
    "LNG GCC": "#B1A0C7", "Biomass": "#C4BD97", "Coal": "#948A54", "Nuclear": "#4A452A",
    "Geothermal": "#FF0000", "Hydro": "#0070C0",
}
LEGEND_ORDER = ["Suppressed Wind", "Suppressed PV", "Battery(in)", "Pumped(in)", "Battery(out)",
                "Pumped(out)", "Wind", "PV", "Oil", "LNG", "LNG GCC", "Biomass", "Coal",
                "Nuclear", "Geothermal", "Hydro", "Demand"]

# ====================== LAYOUT GEOMETRY ======================
# Positions are taken in reference-page pixels.  In the rendered page the figure
# starts at x = 8 and its vertical coordinates appear as y_page = Y_OFF + Y_SCALE * y_fig.
PAGE_DX = 8
Y_OFF, Y_SCALE = 14.2, 0.9925
FIG_W, FIG_H = 1353 - PAGE_DX, 957
PLOT_L, PLOT_R = 62, 1210
PANEL_TOP = [13, 335, 657]
PANEL_H = 258.5
TITLE_Y = [304, 626, 947]
FONT = "Liberation Sans"


def fig_y(page_y):
    return (page_y - Y_OFF) / Y_SCALE


PLOT_TOP_FIG = 0.5
PLOT_BOT_FIG = fig_y(PANEL_TOP[2] + PANEL_H)
PAGE_TOP_LIMIT = Y_OFF + Y_SCALE * PLOT_TOP_FIG
ML = PLOT_L - PAGE_DX
MR = FIG_W - (PLOT_R - PAGE_DX)
MT = PLOT_TOP_FIG
MB = FIG_H - PLOT_BOT_FIG


def fx(px):
    return (px - PLOT_L) / (PLOT_R - PLOT_L)


def fy(py):
    return (PLOT_BOT_FIG - fig_y(py)) / (PLOT_BOT_FIG - PLOT_TOP_FIG)


def clamp01(v):
    return min(1.0, max(0.0, v))


fig = go.Figure()
layout_axes = {}
shapes = []
annotations = []

for i, p in enumerate(panels):
    sx = "" if i == 0 else str(i + 1)
    xa, ya = "x" + sx, "y" + sx
    top = PANEL_TOP[i]
    d0, d1 = clamp01(fy(top + PANEL_H)), clamp01(fy(top))

    pos_series = [
        ("Hydro", per_day(p["hydro"])),
        ("Geothermal", per_day(p["geo"])),
        ("Nuclear", per_day(p["nuc"])),
        ("Coal", coal_series(p["coal"], p["ramp"])),
        ("Biomass", per_day(p["bio"])),
        ("LNG GCC", flat(p["lng"])),
        ("LNG", zero_series),
        ("Oil", zero_series),
        ("PV", pv_series(p["pv"])),
        ("Wind", flat(p["wind"])),
        ("Pumped(out)", sparse(p["pout"])),
        ("Battery(out)", zero_series),
        ("Suppressed PV", zero_series),
        ("Suppressed Wind", zero_series),
    ]
    neg_series = [
        ("Pumped(in)", sparse(p["pin"])),
        ("Battery(in)", zero_series),
    ]
    for grp, series in (("pos%d" % i, pos_series), ("neg%d" % i, neg_series)):
        for name, vals in series:
            fig.add_trace(go.Scatter(
                x=hour_axis, y=vals, name=name, mode="lines",
                line=dict(width=0), fillcolor=COLORS[name], stackgroup=grp,
                xaxis=xa, yaxis=ya, showlegend=False, hoverinfo="skip"))
    fig.add_trace(go.Scatter(
        x=hour_axis, y=flat(demand), name="Demand", mode="lines",
        line=dict(color="black", width=1.3), xaxis=xa, yaxis=ya,
        showlegend=False, hoverinfo="skip"))

    zero_pos = d0 + (0 - Y_TICKS[0]) / (Y_TICKS[-1] - Y_TICKS[0]) * (d1 - d0)
    layout_axes["xaxis" + sx] = dict(
        domain=[0, 1], range=[0, hour_axis[-1]], anchor="free", position=zero_pos,
        showline=True, linecolor="#8C8C8C", linewidth=1, ticks="outside", ticklen=4,
        tickcolor="#8C8C8C", tickvals=[24 * d for d in range(N_DAYS)],
        showticklabels=False, showgrid=False, zeroline=False)
    layout_axes["yaxis" + sx] = dict(
        domain=[d0, d1], range=[Y_TICKS[0], Y_TICKS[-1]], anchor=xa,
        tickvals=Y_TICKS, ticktext=[str(v) for v in Y_TICKS],
        showgrid=True, gridcolor="#A6A6A6", gridwidth=1, zeroline=False,
        showline=True, linecolor="#8C8C8C", linewidth=1, ticks="",
        ticklabelstandoff=10, tickfont=dict(family=FONT, size=11, color="black"),
        title=dict(text="Power Generation [GW]", standoff=4,
                   font=dict(family=FONT, size=12, color="black", weight="bold")))

    # panel caption
    annotations.append(dict(
        text=PANEL_TITLES[i], xref="paper", yref="paper", x=fx(565), y=fy(TITLE_Y[i]),
        xanchor="center", yanchor="middle", showarrow=False,
        font=dict(family=FONT, size=29, color="black")))

    # legend box for the panel (kept inside the figure)
    box_top = max(top - 5, PAGE_TOP_LIMIT)
    box_bot = top + 258
    first_row, last_row = box_top + 9.2, box_bot - 7.5
    step = (last_row - first_row) / (len(LEGEND_ORDER) - 1)
    shapes.append(dict(type="rect", xref="paper", yref="paper",
                       x0=fx(1226), x1=fx(1351), y0=fy(box_bot), y1=fy(box_top),
                       line=dict(color="#3C3C3C", width=1), fillcolor="white", layer="below"))
    for k, name in enumerate(LEGEND_ORDER):
        yc = first_row + step * k
        if name == "Demand":
            shapes.append(dict(type="line", xref="paper", yref="paper",
                               x0=fx(1232), x1=fx(1257), y0=fy(yc), y1=fy(yc),
                               line=dict(color="black", width=1)))
        else:
            shapes.append(dict(type="rect", xref="paper", yref="paper",
                               x0=fx(1232), x1=fx(1257), y0=fy(yc + 4), y1=fy(yc - 4),
                               line=dict(width=0), fillcolor=COLORS[name]))
        annotations.append(dict(
            text=name, xref="paper", yref="paper", x=fx(1259.5), y=fy(yc),
            xanchor="left", yanchor="middle", showarrow=False,
            font=dict(family=FONT, size=10.5, color="black")))

fig.update_layout(
    width=FIG_W, height=FIG_H, autosize=False,
    margin=dict(l=ML, r=MR, t=MT, b=MB, pad=0),
    paper_bgcolor="white", plot_bgcolor="white",
    showlegend=False, hovermode=False,
    shapes=shapes, annotations=annotations,
    font=dict(family=FONT, size=11, color="black"),
    **layout_axes)

fig.write_html("out.html")
